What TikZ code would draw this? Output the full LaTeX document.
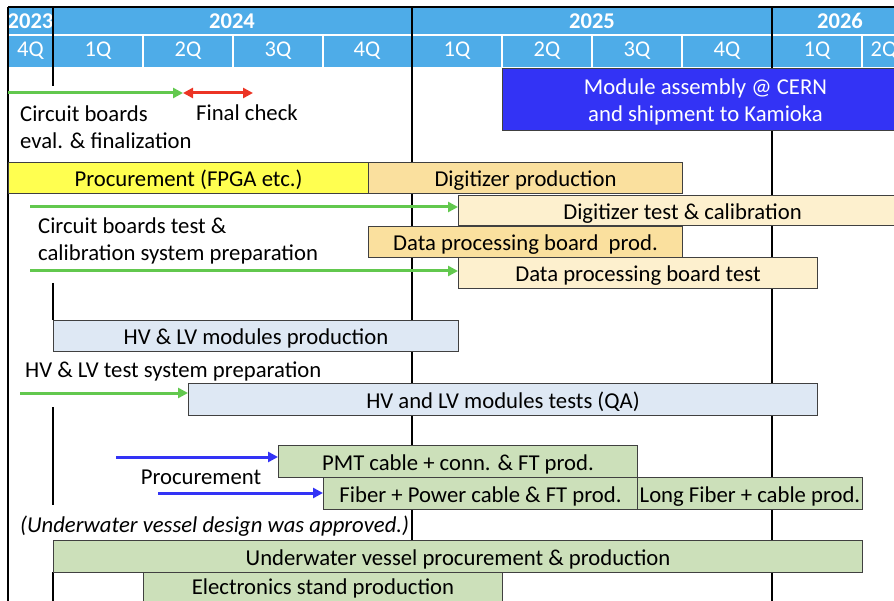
\documentclass[tikz,border=0pt]{standalone}
\usepackage{fontspec}
\setmainfont{Carlito}
\usetikzlibrary{arrows.meta}
\definecolor{hdrblue}{RGB}{78,172,232}
\definecolor{modblue}{RGB}{51,51,245}
\definecolor{procyellow}{RGB}{255,255,80}
\definecolor{prodorange}{RGB}{250,224,158}
\definecolor{testcream}{RGB}{253,240,206}
\definecolor{hvblue}{RGB}{222,232,244}
\definecolor{cablegreen}{RGB}{204,224,186}
\definecolor{arrgreen}{RGB}{98,200,78}
\definecolor{arrred}{RGB}{236,52,36}
\definecolor{barline}{RGB}{64,64,64}
\tikzset{
  frame/.style={black,line width=1.3pt},
  sep/.style={white,line width=1.2pt},
  yearlbl/.style={text=white,font=\fontsize{22.5}{26}\selectfont\bfseries},
  qlbl/.style={text=white,font=\fontsize{22.5}{26}\selectfont},
  bar/.style={draw=barline,line width=1pt,inner sep=0pt,anchor=north west,
    align=center,text height=19.5pt,text depth=2pt,font=\fontsize{22.7}{27}\selectfont},
  lbl/.style={inner sep=0pt,anchor=west,align=left,font=\fontsize{22.7}{27}\selectfont},
  garrow/.style={arrgreen,line width=3pt,-{Triangle[length=10pt,width=10pt]}},
  barrow/.style={modblue,line width=3pt,-{Triangle[length=10pt,width=10pt]}},
  rarrow/.style={arrred,line width=3pt,{Triangle[length=10pt,width=10pt]}-{Triangle[length=10pt,width=10pt]}}
}
\begin{document}
\begin{tikzpicture}[x=1pt,y=-1pt]
\useasboundingbox (0,0) rectangle (894,601);

\begin{scope}
\fill[hdrblue] (8,7) rectangle (894,67);
\draw[sep] (8,35)--(894,35);
\foreach \q in {143,233,323,502,592,682,862}
  \draw[sep] (\q,35)--(\q,67);
\foreach \x/\yr in {30.5/2023,232/2024,592/2025,840/2026}
  \node[yearlbl] (y\yr) at (\x,21) {\yr};
\foreach \x/\q [count=\i] in {30.5/4Q,98/1Q,188/2Q,278/3Q,367/4Q,457/1Q,547/2Q,637/3Q,727/4Q,817/1Q,884/2Q}
  \node[qlbl] (q\i) at (\x,51) {\q};
\end{scope}

\draw[frame] (8,7)--(894,7);
\draw[frame] (8,7)--(8,601);
\draw[frame] (412,7)--(412,601);
\draw[frame] (772,7)--(772,601);
\foreach \a/\b in {7/86,283/320,407/505,572/601}
  \draw[frame] (53,\a)--(53,\b);

\node[bar,fill=modblue,text=white,minimum width=406,minimum height=62,text height=47pt,text depth=2pt] (modasm) at (502,68) {Module assembly @ CERN\\and shipment to Kamioka};
\coordinate (cbs) at (8,93);
\coordinate (fcs) at (183,93);
\coordinate (fce) at (253,93);
\draw[garrow] (cbs)--(fcs);
\draw[rarrow] (fcs)--(fce);
\node[lbl] (cbeval) at (20,127.5) {Circuit boards\\eval. \& finalization};
\node[lbl] (fcheck) at (196,113) {Final check};

\node[bar,fill=procyellow,minimum width=360,minimum height=31] (procfpga) at (8,162) {Procurement (FPGA etc.)};
\node[bar,fill=prodorange,minimum width=314,minimum height=31] (digprod) at (368,162) {Digitizer production};
\node[bar,fill=testcream,minimum width=448,minimum height=30] (digtest) at (458,195) {Digitizer test \& calibration};
\node[bar,fill=prodorange,minimum width=314,minimum height=31] (dpbprod) at (368,226) {Data processing board\ \ prod.};
\node[bar,fill=testcream,minimum width=359,minimum height=31] (dpbtest) at (458,257) {Data processing board test};
\coordinate (cbt1) at (30,207);
\coordinate (cbt2) at (30,271);
\draw[garrow] (cbt1)--(cbt1 -| digtest.west);
\draw[garrow] (cbt2)--(cbt2 -| dpbtest.west);
\node[lbl] (cbtest) at (38,241) {Circuit boards test \&\\calibration system preparation};

\node[bar,fill=hvblue,minimum width=405,minimum height=31] (hvprod) at (53,320) {HV \& LV modules production};
\node[lbl] (hvprep) at (25,371) {HV \& LV test system preparation};
\node[bar,fill=hvblue,minimum width=629,minimum height=32] (hvtest) at (188,383) {HV and LV modules tests (QA)};
\coordinate (hvs) at (20,393);
\draw[garrow] (hvs)--(hvs -| hvtest.west);

\node[bar,fill=cablegreen,minimum width=359,minimum height=32] (pmtcab) at (278,445) {PMT cable + conn. \& FT prod.};
\node[bar,fill=cablegreen,minimum width=314,minimum height=32] (fibcab) at (323,477) {Fiber + Power cable \& FT prod.};
\node[bar,fill=cablegreen,minimum width=225,minimum height=32] (longfib) at (637,477) {Long Fiber + cable prod.};
\coordinate (pr1) at (116,457);
\coordinate (pr2) at (158,493);
\draw[barrow] (pr1)--(pr1 -| pmtcab.west);
\draw[barrow] (pr2)--(pr2 -| fibcab.west);
\node[lbl,anchor=center] (procnote) at (201,477) {Procurement};
\node[lbl] (uwnote) at (20,526) {\itshape (Underwater vessel design was approved.)};

\node[bar,fill=cablegreen,minimum width=809,minimum height=32] (uwvessel) at (53,540) {Underwater vessel procurement \& production};
\node[bar,fill=cablegreen,minimum width=359,minimum height=32,text height=17pt,text depth=4.5pt] (estand) at (143,572) {Electronics stand production};
\end{tikzpicture}
\end{document}
